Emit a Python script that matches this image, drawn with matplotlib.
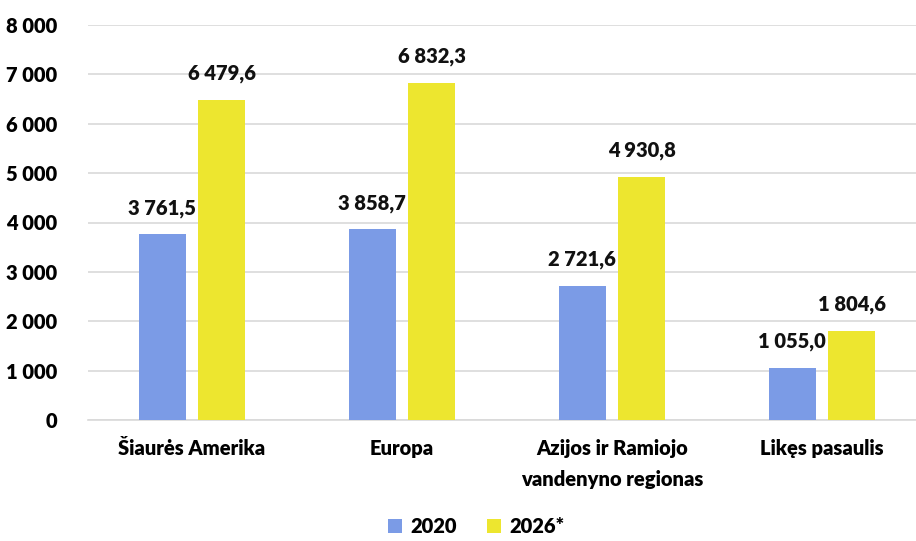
import matplotlib.pyplot as plt
import numpy as np

plt.rcParams['font.family'] = ['Lato', 'DejaVu Sans']

categories = ['Šiaurės Amerika', 'Europa', 'Azijos ir Ramiojo\nvandenyno regionas', 'Likęs pasaulis']
values_2020 = [3761.5, 3858.7, 2721.6, 1055.0]
values_2026 = [6479.6, 6832.3, 4930.8, 1804.6]
series_names = ['2020', '2026*']
yticks = [0, 1000, 2000, 3000, 4000, 5000, 6000, 7000, 8000]

blue = '#7b9be6'
yellow = '#ede62f'
FS = 14.5
WT = 'heavy'


def fmt(v, dec=1):
    s = f'{v:,.{dec}f}'
    return s.replace(',', ' ').replace('.', ',')


fig = plt.figure(figsize=(9.16, 5.41), dpi=100)
ax = fig.add_axes([88 / 916, 121 / 541, 1 - 88 / 916, 395 / 541])

x = np.arange(len(categories))
w = 0.224
off = 0.142
b1 = ax.bar(x - off, values_2020, w, color=blue, label=series_names[0], zorder=3)
b2 = ax.bar(x + off, values_2026, w, color=yellow, label=series_names[1], zorder=3)

for bars, vals in ((b1, values_2020), (b2, values_2026)):
    for rect, v in zip(bars, vals):
        ax.annotate(fmt(v), (rect.get_x() + rect.get_width() / 2, v),
                    xytext=(0, 12), textcoords='offset points',
                    ha='center', va='bottom', fontsize=FS, fontweight=WT,
                    color='#111111')

ax.set_xlim(-0.495, 3.448)
ax.set_ylim(0, 8000)
ax.set_yticks(yticks)
ax.set_yticklabels([fmt(t, 0) for t in yticks], fontsize=FS, fontweight=WT)
ax.set_xticks(x)
ax.set_xticklabels(categories, fontsize=FS, fontweight=WT, linespacing=1.75)
ax.tick_params(axis='both', length=0)
ax.tick_params(axis='y', pad=22)
ax.tick_params(axis='x', pad=14)
ax.yaxis.grid(True, color='#d9d9d9', linewidth=1.2, zorder=0)
for side in ('left', 'right', 'top'):
    ax.spines[side].set_visible(False)
ax.spines['bottom'].set_color('#d9d9d9')
ax.spines['bottom'].set_linewidth(1.2)

fig.legend(loc='lower center', bbox_to_anchor=(0.52, -0.025), ncol=2, frameon=False,
           prop={'size': FS, 'weight': WT}, handlelength=0.7, handleheight=0.7,
           columnspacing=1.5, handletextpad=0.4)

fig.savefig('out.png', dpi=100)
